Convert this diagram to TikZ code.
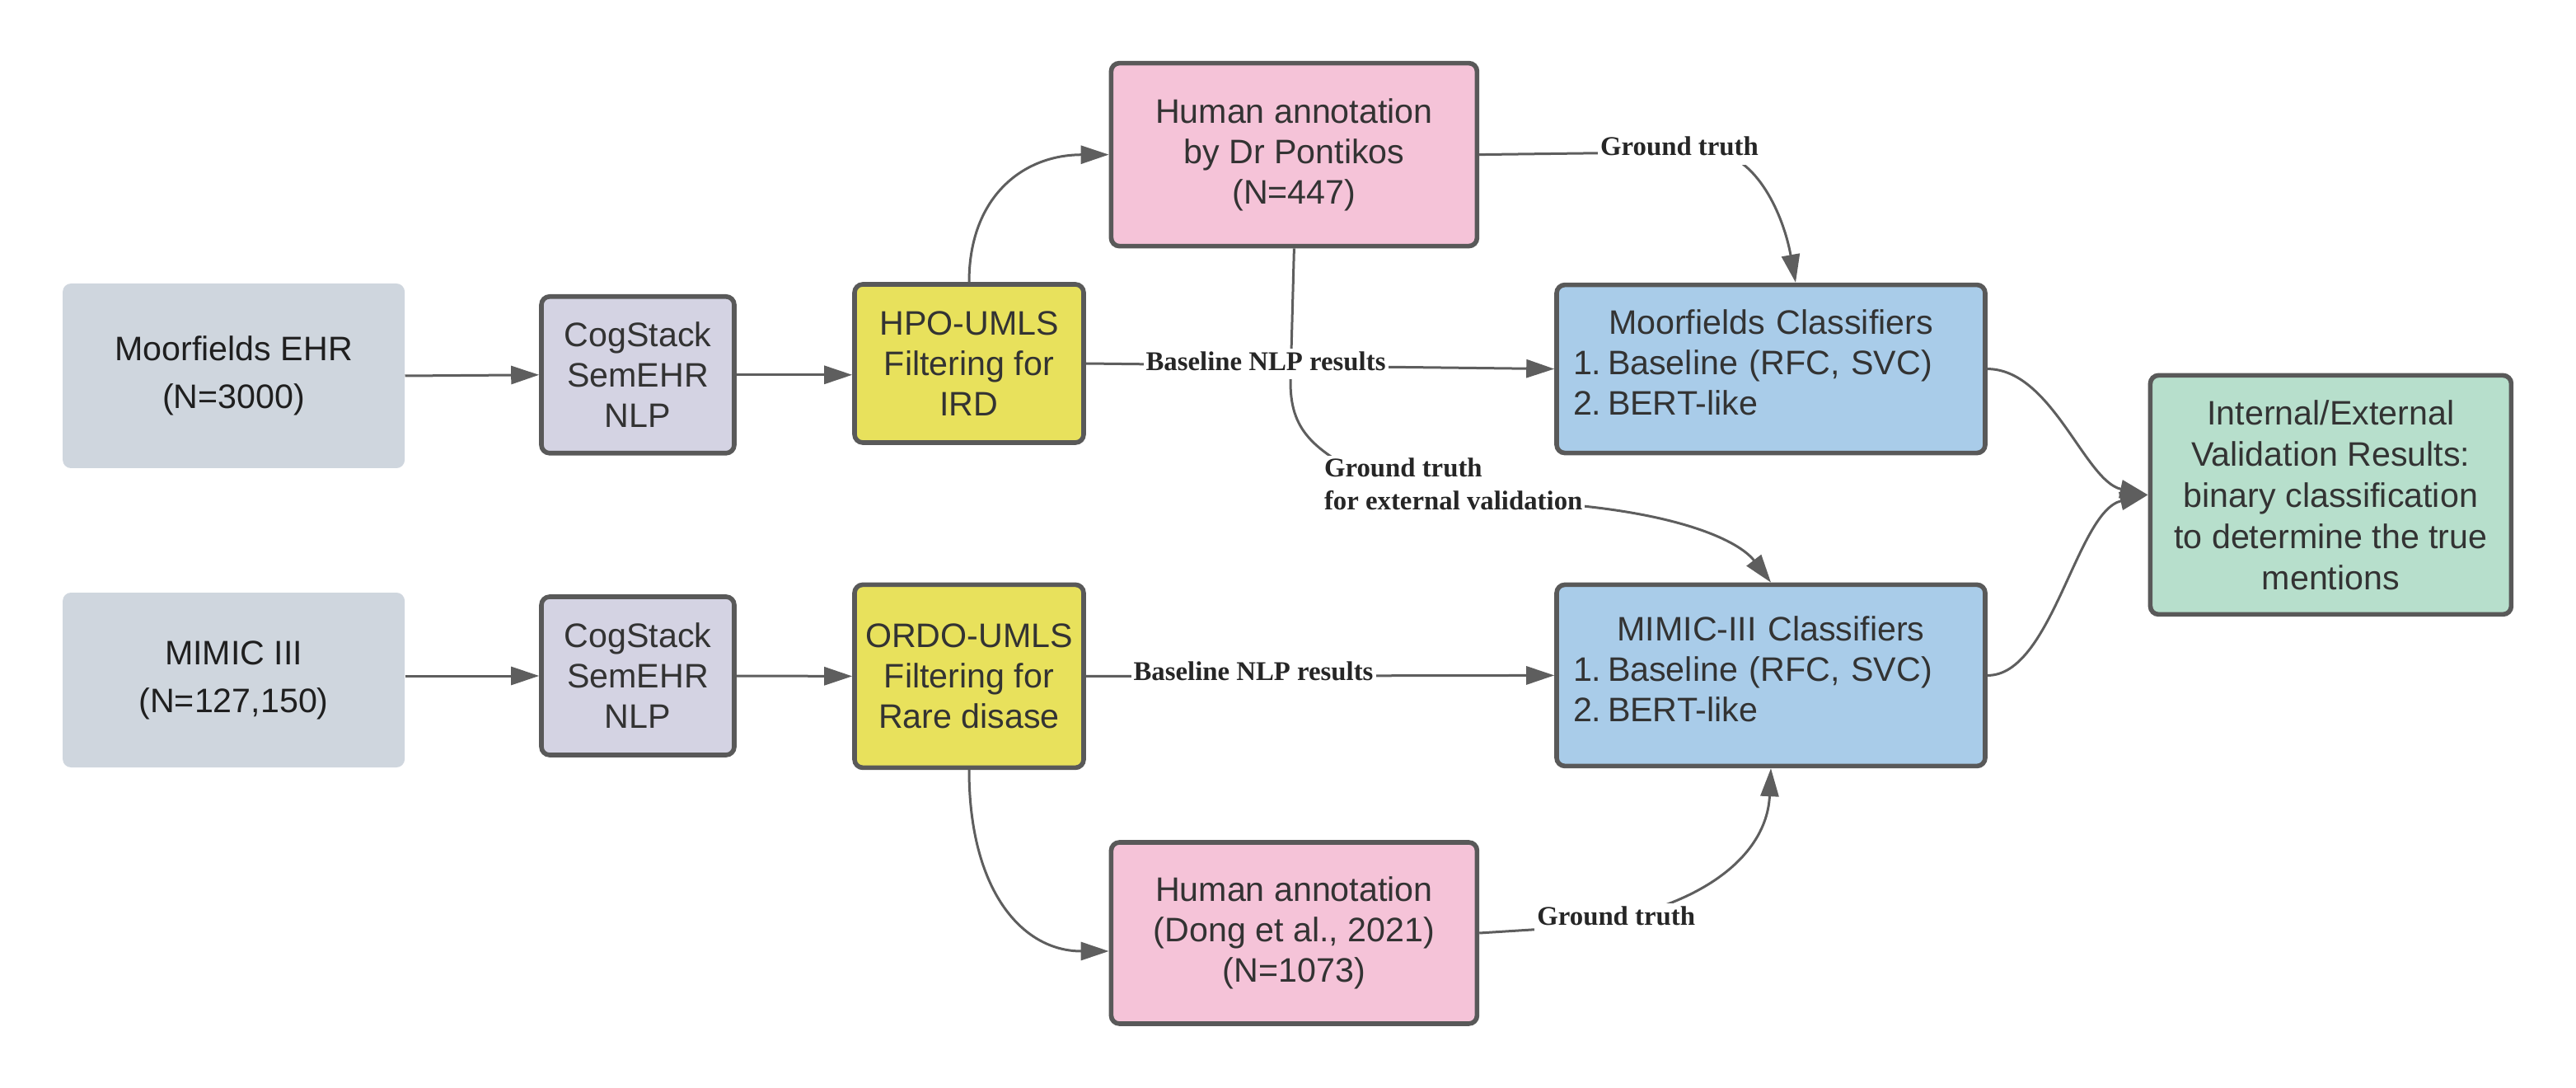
\documentclass[tikz,border=0pt]{standalone}
\usepackage{fontspec}
\setmainfont{Liberation Sans}
\newfontfamily\lblfont{Liberation Serif}
\usetikzlibrary{arrows.meta,calc}
\definecolor{srcfill}{HTML}{CFD6DE}
\definecolor{cogfill}{HTML}{D4D3E3}
\definecolor{yelfill}{HTML}{E8E15C}
\definecolor{pinkfill}{HTML}{F5C3D8}
\definecolor{bluefill}{HTML}{A9CCE9}
\definecolor{greenfill}{HTML}{B7DFCC}
\definecolor{edgec}{HTML}{595959}
\definecolor{wire}{HTML}{5E5E5E}
\definecolor{txt}{HTML}{333333}
\begin{document}
\begin{tikzpicture}[x=1pt,y=-1pt,
 box/.style={draw=edgec, line width=2.8pt, rounded corners=5pt, inner sep=0pt, align=center, text=txt, font=\fontsize{20.6}{24.5}\selectfont},
 src/.style={fill=srcfill, rounded corners=5pt, inner sep=0pt, align=center, text=black!88, font=\fontsize{20.6}{29}\selectfont},
 conn/.style={draw=wire, line width=1.5pt, -{Triangle[length=17pt,width=11pt]}},
 lbl/.style={fill=white, inner sep=1.5pt, text height=11.5pt, text depth=4pt, text=black!85, font=\lblfont\bfseries\fontsize{16.4}{20}\selectfont},
 lbltwo/.style={fill=white, inner sep=1.5pt, align=left, text=black!85, font=\lblfont\bfseries\fontsize{16.4}{20}\selectfont},
]
\useasboundingbox (0,0) rectangle (1563,660);

% source boxes
\node[src, minimum width=207.5pt, minimum height=112pt] (ehr) at (141.8,228) {Moorfields EHR\\(N=3000)};
\node[src, minimum width=207.5pt, minimum height=106pt] (mimic) at (141.8,412.5) {MIMIC III\\(N=127,150)};

% NLP boxes
\node[box, fill=cogfill, minimum width=117pt, minimum height=95pt] (cog1) at (387,227.4) {CogStack\\SemEHR\\NLP};
\node[box, fill=cogfill, minimum width=117pt, minimum height=96pt] (cog2) at (387,410) {CogStack\\SemEHR\\NLP};

% filtering boxes
\node[box, fill=yelfill, minimum width=139pt, minimum height=96pt] (hpo) at (588,220.5) {HPO-UMLS\\Filtering for\\IRD};
\node[box, fill=yelfill, minimum width=139pt, minimum height=111pt] (ordo) at (588,410.2) {ORDO-UMLS\\Filtering for\\Rare disase};

% annotation boxes
\node[box, fill=pinkfill, minimum width=222pt, minimum height=111pt] (ha1) at (785.2,93.8) {Human annotation\\by Dr Pontikos\\(N=447)};
\node[box, fill=pinkfill, minimum width=222pt, minimum height=110pt] (ha2) at (785.2,566) {Human annotation\\(Dong et al., 2021)\\(N=1073)};

% classifier boxes
\node[box, fill=bluefill, minimum width=260pt, minimum height=102pt, text width=240pt, align=left] (mc) at (1074.5,223.8)
 {{\centering Moorfields Classifiers\par}\makebox[21pt][l]{1.}Baseline (RFC, SVC)\\\makebox[21pt][l]{2.}BERT-like\par\vspace{8pt}};
\node[box, fill=bluefill, minimum width=260pt, minimum height=110pt, text width=240pt, align=left] (mimc) at (1074.5,409.7)
 {{\centering MIMIC-III Classifiers\par}\makebox[21pt][l]{1.}Baseline (RFC, SVC)\\\makebox[21pt][l]{2.}BERT-like\par\vspace{8pt}};

% results box
\node[box, fill=greenfill, minimum width=219pt, minimum height=145pt, font=\fontsize{20.6}{25}\selectfont] (res) at (1414.2,300.2)
 {Internal/External\\Validation Results:\\binary classification\\to determine the true\\mentions};

% connectors
\draw[conn] (ehr.east) -- (cog1.west);
\draw[conn] (cog1.east) -- (cog1.east -| hpo.west);
\draw[conn] (mimic.east |- cog2.west) -- (cog2.west);
\draw[conn] (cog2.east) -- (ordo.west);

\draw[conn] (hpo.north) .. controls (588,120) and (620,94) .. (ha1.west);
\draw[conn] (ordo.south) .. controls (588,540) and (620,577) .. ($(ha2.west)+(0,11)$);

\draw[conn] (ha1.south) -- (783,232) .. controls (783,264) and (800,274) .. (835,293) -- (950,306)
  .. controls (1020,312) and (1055,328) .. (mimc.north);
\draw[conn] (ha1.east) -- (1040,92) .. controls (1066,95) and (1082,130) .. ($(mc.north)+(15,0)$);
\draw[conn] (hpo.east) -- (mc.west);
\draw[conn] (ordo.east) -- (mimc.west);
\draw[conn] (ha2.east) -- (945,563) .. controls (1030,555) and (1072,520) .. (mimc.south);

\draw[conn] (mc.east) .. controls (1245,224) and (1265,292) .. (res.west);
\draw[conn] (mimc.east) .. controls (1245,410) and (1260,310) .. (res.west);

% labels
\node[lbl, anchor=base] (gt1) at (1019,94.5) {Ground truth};
\node[lbl, anchor=base] (bl1) at (768,224.7) {Baseline NLP results};
\node[lbl, anchor=base] (bl2) at (760.5,412.7) {Baseline NLP results};
\node[lbl, anchor=base] (gt2) at (980.6,561) {Ground truth};
\node[lbltwo, anchor=north west] (gtx) at (801.8,276.2) {Ground truth\\for external validation};
\end{tikzpicture}
\end{document}
